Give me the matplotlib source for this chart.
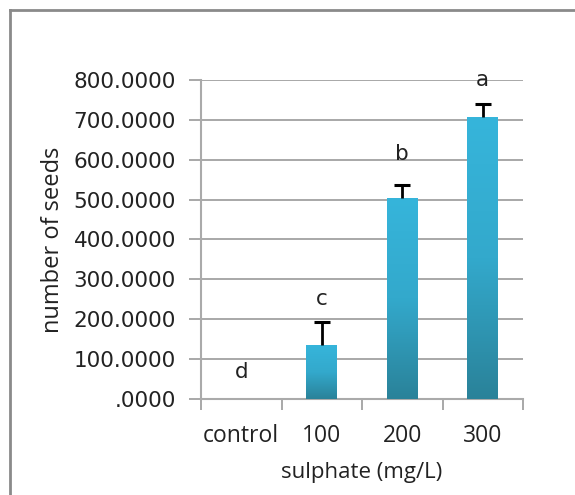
import numpy as np
import matplotlib
matplotlib.use("Agg")
import matplotlib.pyplot as plt
from matplotlib.colors import LinearSegmentedColormap
from matplotlib.lines import Line2D

# data
categories = ["control", "100", "200", "300"]
seeds = [0, 135, 505, 707]
err_up = [0, 57, 32, 32]
letters = ["d", "c", "b", "a"]
letter_y = [68, 250, 615, 800]
yticks = [0, 100, 200, 300, 400, 500, 600, 700, 800]
ytick_labels = [".0000", "100.0000", "200.0000", "300.0000", "400.0000",
                "500.0000", "600.0000", "700.0000", "800.0000"]

fig = plt.figure(figsize=(5.75, 4.95), dpi=100)
ax = fig.add_axes([201 / 575, 1 - 399 / 495, 322 / 575, 319 / 495])

x = np.arange(len(categories))
bars = ax.bar(x, seeds, width=0.38, color="none", edgecolor="none", zorder=3)

# vertical gradient inside each bar
cmap = LinearSegmentedColormap.from_list("bar", ["#2A8299", "#33A9CC", "#36B5DB"])
grad = np.linspace(0, 1, 256).reshape(-1, 1)
for b in bars:
    if b.get_height() <= 0:
        continue
    x0, w, h = b.get_x(), b.get_width(), b.get_height()
    im = ax.imshow(grad, cmap=cmap, aspect="auto", origin="lower",
                   extent=[x0, x0 + w, 0, h], zorder=3)
    im.set_clip_path(b)

# upper error bars only
top = np.array(seeds) + np.array(err_up)
has_err = np.array(err_up) > 0
ax.vlines(x[has_err], np.array(seeds)[has_err], top[has_err], color="black", linewidth=2, zorder=4)
ax.plot(x[has_err], top[has_err], linestyle="none", marker="_", markersize=11,
        markeredgewidth=2.2, color="black", zorder=4)

for xi, lab, ly in zip(x, letters, letter_y):
    ax.text(xi, ly, lab, ha="center", va="center", fontsize=15.5,
            family="DejaVu Sans", color="#222222", zorder=5)

ax.set_xlim(-0.5, len(categories) - 0.5)
ax.set_ylim(0, 800)
ax.set_yticks(yticks)
ax.set_yticklabels(ytick_labels, fontsize=15.5, family="DejaVu Sans", color="#222222")
ax.set_xticks(x)
ax.set_xticklabels(categories, fontsize=16.5, family="Open Sans", color="#222222")
ax.set_xticks(np.arange(len(categories) + 1) - 0.5, minor=True)
ax.tick_params(axis="x", which="major", length=0, pad=18)
ax.tick_params(axis="x", which="minor", length=8, color="#999999", width=1.2)
ax.tick_params(axis="y", length=9, color="#999999", width=1.2, pad=9)

ax.grid(axis="y", color="#9A9A9A", linewidth=1.2, zorder=0)
ax.set_axisbelow(True)
for s in ["top", "right"]:
    ax.spines[s].set_visible(False)
for s in ["left", "bottom"]:
    ax.spines[s].set_color("#AAAAAA")
    ax.spines[s].set_linewidth(1.5)

ax.set_ylabel("number of seeds", fontsize=17, family="Open Sans", color="#222222", labelpad=6)
ax.set_xlabel("sulphate (mg/L)", fontsize=16, family="Open Sans", color="#222222", labelpad=10)

# outer chart frame (top and left edges visible)
fig.add_artist(Line2D([10 / 575, 1], [1 - 10 / 495, 1 - 10 / 495], transform=fig.transFigure,
                      color="#8A8A8A", linewidth=2))
fig.add_artist(Line2D([10 / 575, 10 / 575], [0, 1 - 10 / 495], transform=fig.transFigure,
                      color="#8A8A8A", linewidth=2))

fig.savefig("out.png", dpi=100)
